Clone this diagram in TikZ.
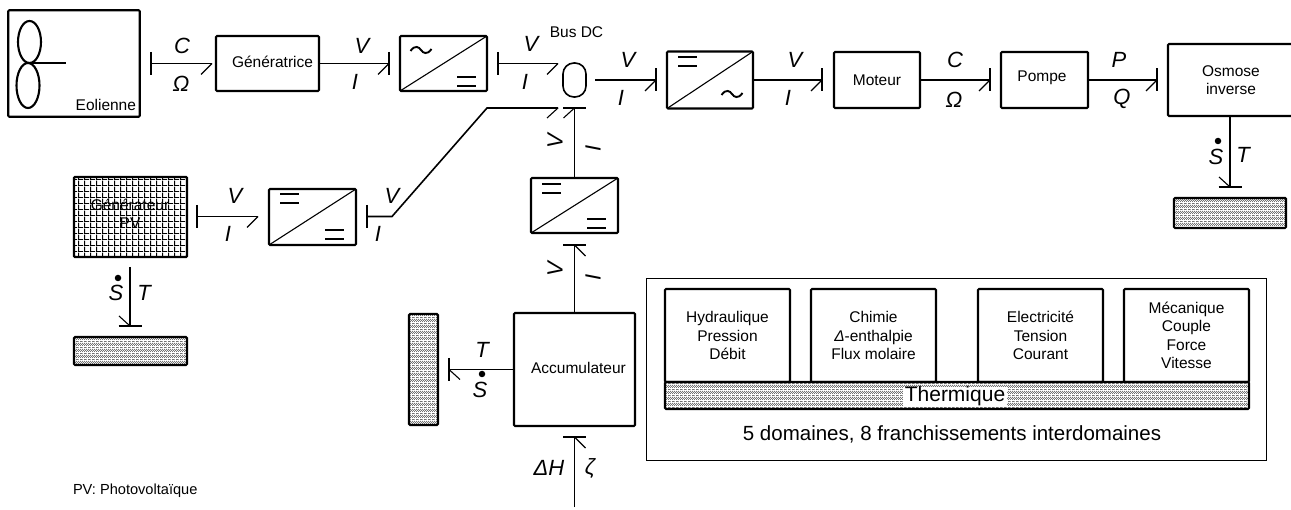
\documentclass[tikz,border=0pt]{standalone}
\usepackage{fontspec}
\setmainfont{Liberation Sans}
\usetikzlibrary{calc,patterns}
\pgfdeclarepatternformonly{heatfill}{\pgfqpoint{-0.5pt}{-0.5pt}}{\pgfqpoint{4.5pt}{6.5pt}}{\pgfqpoint{4pt}{6pt}}{%
  \pgfpathrectangle{\pgfqpoint{0pt}{0pt}}{\pgfqpoint{2.6pt}{0.8pt}}%
  \pgfpathrectangle{\pgfqpoint{0pt}{2.2pt}}{\pgfqpoint{0.8pt}{0.8pt}}%
  \pgfpathrectangle{\pgfqpoint{2pt}{2.2pt}}{\pgfqpoint{0.8pt}{0.8pt}}%
  \pgfpathrectangle{\pgfqpoint{1pt}{3.2pt}}{\pgfqpoint{0.8pt}{0.8pt}}%
  \pgfpathrectangle{\pgfqpoint{3pt}{3.2pt}}{\pgfqpoint{0.8pt}{0.8pt}}%
  \pgfpathrectangle{\pgfqpoint{0pt}{4.2pt}}{\pgfqpoint{0.8pt}{0.8pt}}%
  \pgfpathrectangle{\pgfqpoint{2pt}{4.2pt}}{\pgfqpoint{0.8pt}{0.8pt}}%
  \pgfusepath{fill}}
\pgfdeclarepatternformonly{pvgrid}{\pgfqpoint{0pt}{0pt}}{\pgfqpoint{5.6pt}{5.6pt}}{\pgfqpoint{5.6pt}{5.6pt}}{%
  \pgfpathrectangle{\pgfqpoint{0pt}{0pt}}{\pgfqpoint{1.1pt}{5.6pt}}%
  \pgfpathrectangle{\pgfqpoint{0pt}{0pt}}{\pgfqpoint{5.6pt}{0.9pt}}%
  \pgfusepath{fill}}
\tikzset{
  every node/.style={inner sep=0pt,outer sep=0pt},
  txt/.style={font=\fontsize{15.5}{18.5}\selectfont,align=center},
  var/.style={font=\fontsize{22}{24}\selectfont\itshape},
  box/.style={draw=black,line width=2.1pt,rounded corners=1pt,txt},
  heat/.style={box,pattern=heatfill,pattern color=black!55},
  bond/.style={line width=1.6pt},
  stub/.style={line width=1.5pt},
  hookl/.style={line width=1.1pt},
  diag/.style={line width=1.1pt},
  symb/.style={line width=1.9pt},
}
\newcommand{\vstub}[1]{\draw[stub] ($(#1)+(0,-11.5)$) -- ($(#1)+(0,11.5)$);}
\newcommand{\hstub}[1]{\draw[stub] ($(#1)+(-11.5,0)$) -- ($(#1)+(11.5,0)$);}
\newcommand{\hookat}[3]{\draw[hookl] (#1) -- ++(#2,#3);}
\newcommand{\eqsign}[2]{\draw[symb] (#1,#2) -- ++(19,0) (#1,#2+9) -- ++(19,0);}
\newcommand{\tild}[2]{\draw[symb] (#1-10.5,#2+1) .. controls (#1-6,#2-5.5) and (#1-2,#2-3) .. (#1,#2) .. controls (#1+2,#2+3) and (#1+6,#2+5.5) .. (#1+10.5,#2-1);}
\begin{document}
\begin{tikzpicture}[x=1pt,y=-1pt]
\useasboundingbox (0,0) rectangle (1291,510);
% Eolienne
\node[box,minimum width=131.5,minimum height=106.5] (eol) at (74,63.5) {};
\node[txt,anchor=east] (eolt) at (136,105) {Eolienne};
\draw[line width=2.1pt] (29.5,42) ellipse (11.5 and 21);
\draw[line width=2.1pt] (28,85.5) ellipse (11.5 and 22.5);
\draw[line width=2.8pt] (29,63) -- (66,63);
% boxes
\node[box,minimum width=103,minimum height=55,label={[txt,xshift=5pt,yshift=2pt]center:Génératrice}] (gen) at (267.5,63.5) {};
\node[box,minimum width=87,minimum height=55] (c1) at (443.5,63.5) {};
\node[box,minimum width=23,minimum height=34,rounded corners=11pt,line width=1.6pt] (bus) at (574.5,80) {};
\node[txt] (bust) at (576.5,32) {Bus DC};
\node[box,minimum width=86,minimum height=57] (c2) at (710,80) {};
\node[box,minimum width=86,minimum height=56] (mot) at (877,80) {Moteur};
\node[box,minimum width=87,minimum height=56,label={[txt,xshift=-2.5pt,yshift=2pt]center:Pompe}] (pom) at (1044.5,80) {};
\node[box,minimum width=126,minimum height=72] (osm) at (1231,80) {Osmose\\inverse};
\node[heat,minimum width=112,minimum height=30] (hosm) at (1230,213) {};
\node[box,minimum width=113,minimum height=80,pattern=pvgrid,pattern color=black,line width=2.4pt] (pv) at (130.5,217) {};
\node[txt] (pvt) at (130,214) {Générateur\\PV};
\node[heat,minimum width=113,minimum height=28] (hpv) at (130.5,351) {};
\node[box,minimum width=87,minimum height=56] (c3) at (312.5,217) {};
\node[box,minimum width=87,minimum height=55] (c4) at (574.5,205.5) {};
\node[box,minimum width=121,minimum height=113,label={[txt,xshift=4pt,yshift=1.5pt]center:Accumulateur}] (acc) at (574.5,369.5) {};
\node[heat,minimum width=29,minimum height=111] (hacc) at (423.5,369.5) {};
% converters
\draw[diag] (c1.south west) -- (c1.north east);
\draw[diag] (c2.south west) -- (c2.north east);
\draw[diag] (c3.south west) -- (c3.north east);
\draw[diag] (c4.south west) -- (c4.north east);
\tild{421}{50}
\eqsign{457}{77}
\eqsign{678}{57}
\tild{732}{94}
\eqsign{280}{194}
\eqsign{325}{230}
\eqsign{542}{184}
\eqsign{587}{219}
% free ends
\coordinate (b1s) at (151,63.5);
\coordinate (b1e) at (212,63.5);
\coordinate (b2e) at (389,63.5);
\coordinate (b3s) at (498,63.5);
\coordinate (b3e) at (558,63.5);
\coordinate (b4s) at (595,80);
\coordinate (b4e) at (656,80);
\coordinate (b5e) at (822,80);
\coordinate (b6e) at (990,80);
\coordinate (b7e) at (1157,80);
\coordinate (b8e) at (1230,187);
\coordinate (b9s) at (197,216.5);
\coordinate (b9e) at (258,216.5);
\coordinate (b10s) at (367,216.5);
\coordinate (b10a) at (392,216.5);
\coordinate (b10b) at (487,108);
\coordinate (b10e) at (558,108);
\coordinate (b11e) at (574.5,108);
\coordinate (b12e) at (574.5,245);
\coordinate (b13e) at (449,369.5);
\coordinate (b14s) at (574.5,507);
\coordinate (b14e) at (574.5,437);
\coordinate (b15s) at (130,267);
\coordinate (b15e) at (130,326);
% bonds
\draw[bond] (b1s) -- (b1e); \vstub{b1s} \hookat{b1e}{-11}{11}
\draw[bond] (gen.east) -- (b2e); \vstub{b2e} \hookat{b2e}{-11}{11}
\draw[bond] (b3s) -- (b3e); \vstub{b3s} \hookat{b3e}{-11}{11}
\draw[bond] (b4s) -- (b4e); \vstub{b4e} \hookat{b4e}{-11}{11}
\draw[bond] (c2.east) -- (b5e); \vstub{b5e} \hookat{b5e}{-11}{11}
\draw[bond] (mot.east) -- (b6e); \vstub{b6e} \hookat{b6e}{-11}{11}
\draw[bond] (pom.east) -- (b7e); \vstub{b7e} \hookat{b7e}{-11}{11}
\draw[bond,line width=1.2pt] (osm.south -| b8e) -- (b8e); \hstub{b8e} \hookat{b8e}{-11}{-10}
\draw[bond,line width=1.2pt] (b15s) -- (b15e); \hstub{b15e} \hookat{b15e}{-11}{-10}
\draw[bond] (b9s) -- (b9e); \vstub{b9s} \hookat{b9e}{-11}{11}
\draw[bond] (b10s) -- (b10a) -- (b10b) -- (b10e); \vstub{b10s} \hookat{b10e}{-11}{10}
\draw[bond] (c4.north) -- (b11e); \hstub{b11e} \hookat{b11e}{-11}{10}
\draw[bond] (acc.north) -- (b12e); \hstub{b12e} \hookat{b12e}{11}{11}
\draw[bond] (acc.west) -- (b13e); \vstub{b13e} \hookat{b13e}{11}{10}
\draw[bond] (b14s) -- (b14e); \hstub{b14e} \hookat{b14e}{11}{11}
% variable labels
\node[var] (l1) at (182,46) {C};
\node[var] (l2) at (181,84) {Ω};
\node[var] (l3) at (362,46) {V};
\node[var] (l4) at (355,82) {I};
\node[var] (l5) at (531,44) {V};
\node[var] (l6) at (525,82) {I};
\node[var] (l7) at (628,60) {V};
\node[var] (l8) at (621,98) {I};
\node[var] (l9) at (795,60) {V};
\node[var] (l10) at (788,98) {I};
\node[var] (l11) at (955,60) {C};
\node[var] (l12) at (954,100) {Ω};
\node[var] (l13) at (1119,60) {P};
\node[var] (l14) at (1122,99) {Q};
\node[var] (l15) at (235,196) {V};
\node[var] (l16) at (228,234) {I};
\node[var] (l17) at (392,196) {V};
\node[var] (l18) at (378,234) {I};
\node[var,rotate=90] (l19) at (555,141) {V};
\node[var,rotate=90] (l20) at (593,148) {I};
\node[var,rotate=90] (l21) at (555,269) {V};
\node[var,rotate=90] (l22) at (593,277) {I};
\node[var] (l23) at (482,350) {T};
\node[var] (l24) at (480,390) {S};
\node[circle,fill=black,minimum size=6.5pt] (d24) at (482,374) {};
\node[var] (l25) at (1216,157) {S};
\node[circle,fill=black,minimum size=6.5pt] (d25) at (1218,141) {};
\node[var] (l26) at (1243,155) {T};
\node[var] (l27) at (116,293) {S};
\node[circle,fill=black,minimum size=6.5pt] (d27) at (118,278) {};
\node[var] (l28) at (144,293) {T};
\node[var] (l29) at (549,468) {ΔH};
\node[var] (l30) at (590,468) {ζ};
% legend panel
\node[draw=black,line width=1pt,minimum width=620,minimum height=182] (panel) at (956,370) {};
\node[box,minimum width=125,minimum height=93] (dh) at (727.5,335.5) {Hydraulique\\Pression\\Débit};
\node[box,minimum width=125,minimum height=93] (dc) at (873.5,335.5) {Chimie\\{\itshape Δ}-enthalpie\\Flux molaire};
\node[box,minimum width=125,minimum height=93] (de) at (1040.5,335.5) {Electricité\\Tension\\Courant};
\node[box,minimum width=125,minimum height=93] (dm) at (1186.5,335.5) {Mécanique\\Couple\\Force\\Vitesse};
\node[heat,minimum width=584,minimum height=27] (th) at (957,395.5) {};
\node[fill=white,font=\fontsize{21}{24}\selectfont,inner xsep=2pt,inner ysep=0pt] (tht) at (955,396.5) {Thermique};
\node[font=\fontsize{20.5}{24}\selectfont] (pt) at (952,434) {5 domaines, 8 franchissements interdomaines};
\node[font=\fontsize{14.6}{18}\selectfont,anchor=west] (foot) at (73,491) {PV: Photovoltaïque};
\end{tikzpicture}
\end{document}
